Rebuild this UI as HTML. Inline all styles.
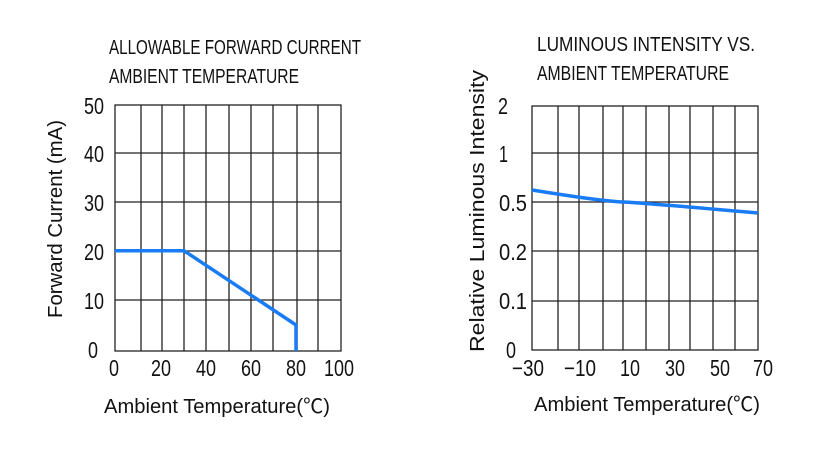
<!DOCTYPE html>
<html><head><meta charset="utf-8"><style>
body{margin:0;background:#fff}
svg text{font-family:"Liberation Sans","Noto Sans CJK JP",sans-serif;fill:#111}
</style></head><body>
<svg width="836" height="459" viewBox="0 0 836 459" xmlns="http://www.w3.org/2000/svg">
<g stroke="#222" stroke-width="1.3" fill="none">
<rect x="115" y="105" width="226" height="246"/>
<path d="M141 105V351M162 105V351M184 105V351M206 105V351M229 105V351M251 105V351M273 105V351M297 105V351M318 105V351"/>
<path d="M115 153H341M115 202H341M115 251H341M115 300H341"/>
<rect x="532" y="106" width="226" height="244"/>
<path d="M558 106V350M579 106V350M603 106V350M623 106V350M646 106V350M669 106V350M690 106V350M713 106V350M735 106V350"/>
<path d="M532 153H758M532 202H758M532 251H758M532 301H758"/>
</g>
<polyline points="115,250.7 184,250.7 296,325 296,351" fill="none" stroke="#1a7cf5" stroke-width="3.5"/>
<path d="M532,190 Q600,201 623,202 T758,213" fill="none" stroke="#1a7cf5" stroke-width="3.5"/>
<g font-size="20">
<text x="109" y="54" textLength="252" lengthAdjust="spacingAndGlyphs">ALLOWABLE FORWARD CURRENT</text>
<text x="109" y="83" textLength="190" lengthAdjust="spacingAndGlyphs">AMBIENT TEMPERATURE</text>
<text x="537" y="51" textLength="218" lengthAdjust="spacingAndGlyphs">LUMINOUS INTENSITY VS.</text>
<text x="537" y="80" textLength="192" lengthAdjust="spacingAndGlyphs">AMBIENT TEMPERATURE</text>
<text x="104" y="413" textLength="226" lengthAdjust="spacingAndGlyphs">Ambient Temperature(℃)</text>
<text x="534" y="411" textLength="226" lengthAdjust="spacingAndGlyphs">Ambient Temperature(℃)</text>
<text transform="translate(62,318) rotate(-90)" textLength="198" lengthAdjust="spacingAndGlyphs">Forward Current (mA)</text>
<text transform="translate(484,352) rotate(-90)" textLength="282" lengthAdjust="spacingAndGlyphs">Relative  Luminous Intensity</text>
</g>
<g font-size="23">
<text x="84" y="114" textLength="20" lengthAdjust="spacingAndGlyphs">50</text>
<text x="84" y="162" textLength="20" lengthAdjust="spacingAndGlyphs">40</text>
<text x="84" y="211" textLength="20" lengthAdjust="spacingAndGlyphs">30</text>
<text x="84" y="260" textLength="20" lengthAdjust="spacingAndGlyphs">20</text>
<text x="84" y="309" textLength="20" lengthAdjust="spacingAndGlyphs">10</text>
<text x="88" y="358" textLength="10" lengthAdjust="spacingAndGlyphs">0</text>
<text x="498" y="114" textLength="10" lengthAdjust="spacingAndGlyphs">2</text>
<text x="499" y="162" textLength="9" lengthAdjust="spacingAndGlyphs">1</text>
<text x="499" y="211" textLength="28" lengthAdjust="spacingAndGlyphs">0.5</text>
<text x="499" y="260" textLength="28" lengthAdjust="spacingAndGlyphs">0.2</text>
<text x="499" y="309" textLength="28" lengthAdjust="spacingAndGlyphs">0.1</text>
<text x="506" y="358" textLength="10" lengthAdjust="spacingAndGlyphs">0</text>
<text x="109" y="376" textLength="10" lengthAdjust="spacingAndGlyphs">0</text>
<text x="151" y="376" textLength="20" lengthAdjust="spacingAndGlyphs">20</text>
<text x="196" y="376" textLength="20" lengthAdjust="spacingAndGlyphs">40</text>
<text x="241" y="376" textLength="20" lengthAdjust="spacingAndGlyphs">60</text>
<text x="286" y="376" textLength="20" lengthAdjust="spacingAndGlyphs">80</text>
<text x="324" y="376" textLength="30" lengthAdjust="spacingAndGlyphs">100</text>
<text x="512" y="376" textLength="32" lengthAdjust="spacingAndGlyphs">−30</text>
<text x="564" y="376" textLength="32" lengthAdjust="spacingAndGlyphs">−10</text>
<text x="620" y="376" textLength="20" lengthAdjust="spacingAndGlyphs">10</text>
<text x="665" y="376" textLength="20" lengthAdjust="spacingAndGlyphs">30</text>
<text x="710" y="376" textLength="20" lengthAdjust="spacingAndGlyphs">50</text>
<text x="753" y="376" textLength="20" lengthAdjust="spacingAndGlyphs">70</text>
</g>
</svg>
</body></html>
